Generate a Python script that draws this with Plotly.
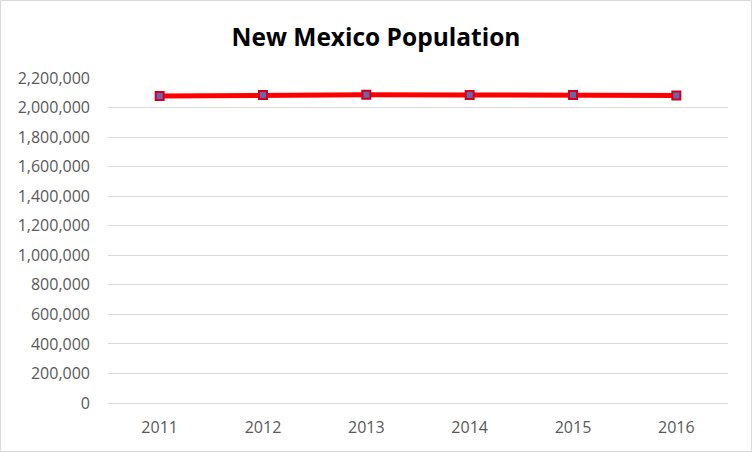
import plotly.graph_objects as go

years = ["2011", "2012", "2013", "2014", "2015", "2016"]
population = [2078226, 2084594, 2086895, 2085572, 2085109, 2081015]
y_ticks = list(range(0, 2200001, 200000))
y_labels = [f"{v:,}" for v in y_ticks]

W, H = 752, 452
L, R, T, B = 108, 24, 78, 49
pw, ph = W - L - R, H - T - B

fig = go.Figure()
fig.add_trace(go.Scatter(
    x=years, y=population, mode="lines+markers",
    line=dict(color="#FF0000", width=5),
    marker=dict(symbol="square", size=8, color="#6E62B0",
                line=dict(color="#D0001B", width=2)),
    showlegend=False,
))

fig.update_layout(
    width=W, height=H,
    margin=dict(l=L, r=R, t=T, b=B),
    paper_bgcolor="white", plot_bgcolor="white",
    font=dict(family="Open Sans, Liberation Sans, sans-serif", size=16, color="#595959"),
    title=dict(text="<b>New Mexico Population</b>", x=0.5, xanchor="center",
               y=1 - 37 / H, yanchor="middle",
               font=dict(size=24.5, color="black", family="Open Sans, sans-serif")),
    xaxis=dict(type="category", range=[-0.5, 5.5], showgrid=False, showline=True,
               linecolor="#D9D9D9", linewidth=1, ticks="", ticklabelstandoff=10,
               tickfont=dict(size=16, color="#595959")),
    yaxis=dict(range=[0, 2200000], tickvals=y_ticks, ticktext=y_labels,
               showgrid=True, gridcolor="#D9D9D9", gridwidth=1, zeroline=False,
               showline=False, ticks="", ticklabelstandoff=17,
               tickfont=dict(size=16, color="#595959")),
    shapes=[dict(type="rect", xref="paper", yref="paper",
                 x0=-(L - 0.5) / pw, x1=1 + (R - 0.5) / pw,
                 y0=-(B - 0.5) / ph, y1=1 + (T - 0.5) / ph,
                 line=dict(color="#D9D9D9", width=1), layer="below")],
)

fig.write_html("out.html", config={"displayModeBar": False})

with open("out.html", "r", encoding="utf-8") as f:
    html = f.read()
html = html.replace("<body>", '<body style="margin:0;overflow:hidden">', 1)
with open("out.html", "w", encoding="utf-8") as f:
    f.write(html)
